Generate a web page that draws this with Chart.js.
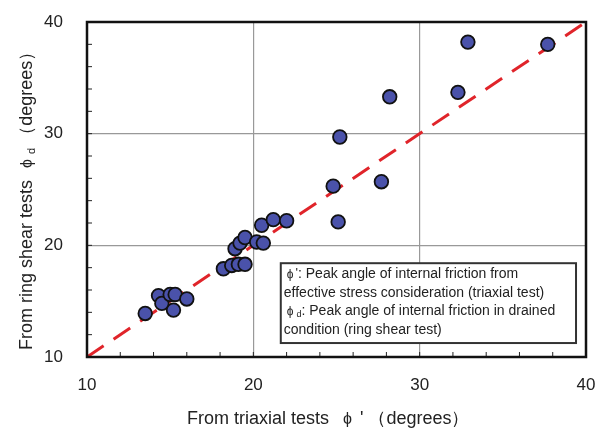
<!DOCTYPE html>
<html>
<head>
<meta charset="utf-8">
<script src="https://cdn.jsdelivr.net/npm/chart.js@4"></script>
<style>
   body { margin: 0; background: #fff; }
   #wrap { width: 595px; height: 429px; }
</style>
</head>
<body>
<div id="wrap"><canvas id="myChart"></canvas></div>
<script>
// ==========================================
// Data
// ==========================================

// triaxial phi' (x) vs ring shear phi_d (y)
const triaxial = [13.5, 14.3, 14.5, 15.0, 15.3, 15.2, 16.0,
   18.2, 18.7, 19.1, 19.5, 18.9, 19.2, 19.5, 20.2, 20.6, 20.5, 21.2, 22.0,
   24.8, 25.1, 25.2, 27.7, 28.2, 32.3, 32.9, 37.7];
const ringShear = [13.9, 15.5, 14.8, 15.6, 15.6, 14.2, 15.2,
   17.9, 18.2, 18.3, 18.3, 19.7, 20.2, 20.7, 20.3, 20.2, 21.8, 22.3, 22.2,
   25.3, 22.1, 29.7, 25.7, 33.3, 33.7, 38.2, 38.0];
const lineX = [10, 40];
const lineY = [10, 40];
const axisMin = 10;
const axisMax = 40;
const majorTicks = [10, 20, 30, 40];

const noteLines = [
   ["'", ": Peak angle of internal friction from"],
   ["", "effective stress consideration (triaxial test)"],
   ["d", ": Peak angle of internal friction in drained"],
   ["", "condition (ring shear test)"]
];

const FONT = "'Liberation Sans', Arial";

// ==========================================
// Extra drawing: frame, inward ticks, note box, axis titles
// ==========================================

// draws pieces one after another, [text, size, gapBefore, baselineShift]
function drawRun(ctx, pieces, x, y) {
   pieces.forEach((p) => {
      x += p[2];
      ctx.font = p[1] + "px " + FONT;
      ctx.fillText(p[0], x, y + p[3]);
      x += ctx.measureText(p[0]).width;
   });
}

const decor = {
   id: "decor",
   afterDraw(chart) {
      const ctx = chart.ctx;
      const a = chart.chartArea;
      const xs = chart.scales.x, ys = chart.scales.y;
      ctx.save();
      // minor ticks pointing inside
      ctx.strokeStyle = "#222";
      ctx.lineWidth = 1;
      for (let v = axisMin + 2; v < axisMax; v += 2) {
         let px = xs.getPixelForValue(v);
         ctx.beginPath(); ctx.moveTo(px, a.bottom); ctx.lineTo(px, a.bottom - 5); ctx.stroke();
         let py = ys.getPixelForValue(v);
         ctx.beginPath(); ctx.moveTo(a.left, py); ctx.lineTo(a.left + 5, py); ctx.stroke();
      }
      // frame
      ctx.lineWidth = 2.5;
      ctx.strokeStyle = "#111";
      ctx.strokeRect(a.left, a.top, a.right - a.left, a.bottom - a.top);

      // note box
      const bx = xs.getPixelForValue(21.65), by = ys.getPixelForValue(18.4);
      const bw = xs.getPixelForValue(39.4) - bx, bh = ys.getPixelForValue(11.25) - by;
      ctx.fillStyle = "#fff";
      ctx.fillRect(bx, by, bw, bh);
      ctx.lineWidth = 2;
      ctx.strokeStyle = "#333";
      ctx.strokeRect(bx, by, bw, bh);
      ctx.fillStyle = "#222";
      ctx.textBaseline = "middle";
      noteLines.forEach((ln, i) => {
         let ty = by + 11 + i * 18.5;
         if (ln[0] == "'") drawRun(ctx, [["ϕ", 12, 0, 0], ["'", 13, 2, -1], [ln[1], 14, 0, 0]], bx + 6, ty);
         else if (ln[0] == "d") drawRun(ctx, [["ϕ", 12, 0, 0], ["d", 9, 3, 3], [ln[1], 14, 0, 0]], bx + 6, ty);
         else drawRun(ctx, [[ln[1], 14, 0, 0]], bx + 3, ty);
      });

      // x axis title
      ctx.textBaseline = "alphabetic";
      ctx.textAlign = "left";
      drawRun(ctx, [["From triaxial tests", 18, 0, 0], ["ϕ", 16, 14, 0], ["'", 18, 8, 0], ["（degrees）", 18, 5, 0]], 187, 424);

      // y axis title, rotated, with subscript d
      ctx.translate(32, 350);
      ctx.rotate(-Math.PI / 2);
      drawRun(ctx, [["From ring shear tests", 18, 0, 0], ["ϕ", 16, 12, 0], ["d", 11, 5, 3], ["（degrees）", 18, 4, 0]], 0, 0);
      ctx.restore();
   }
};

// ==========================================
// Chart
// ==========================================

const points = triaxial.map((x, i) => ({ x: x, y: ringShear[i] }));
const linePts = lineX.map((x, i) => ({ x: x, y: lineY[i] }));

const gridColor = (c) => {
   let v = c.tick ? c.tick.value : null;
   return (v > axisMin && v < axisMax && v % 10 === 0) ? "#999" : "rgba(0,0,0,0)";
};
const tickCb = (v) => majorTicks.includes(v) ? String(v) : "";

new Chart(document.getElementById("myChart"), {
   type: "scatter",
   data: {
      datasets: [
         {
            type: "line",
            data: linePts,
            borderColor: "#e0242a",
            borderWidth: 3,
            borderDash: [20, 12],
            pointRadius: 0,
            order: 2
         },
         {
            data: points,
            backgroundColor: "#4a52aa",
            borderColor: "#111",
            borderWidth: 1.8,
            pointRadius: 6.8,
            order: 1
         }
      ]
   },
   options: {
      responsive: true,
      maintainAspectRatio: false,
      animation: false,
      layout: { padding: { top: 22, right: 9, left: 0, bottom: 0 } },
      plugins: { legend: { display: false }, tooltip: { enabled: false } },
      scales: {
         x: {
            type: "linear",
            min: axisMin, max: axisMax,
            afterFit: (s) => { s.height = 72; s.paddingLeft = 0; s.paddingRight = 0; },
            ticks: { stepSize: 2, autoSkip: false, maxRotation: 0, callback: tickCb,
               color: "#222", font: { size: 17, family: FONT }, padding: 18 },
            grid: { color: gridColor, drawTicks: false, lineWidth: 1.2 },
            border: { display: false }
         },
         y: {
            type: "linear",
            min: axisMin, max: axisMax,
            afterFit: (s) => { s.width = 87; s.paddingTop = 0; s.paddingBottom = 0; },
            ticks: { stepSize: 2, autoSkip: false, callback: tickCb,
               color: "#222", font: { size: 17, family: FONT }, padding: 24 },
            grid: { color: gridColor, drawTicks: false, lineWidth: 1.2 },
            border: { display: false }
         }
      }
   },
   plugins: [decor]
});
</script>
</body>
</html>
